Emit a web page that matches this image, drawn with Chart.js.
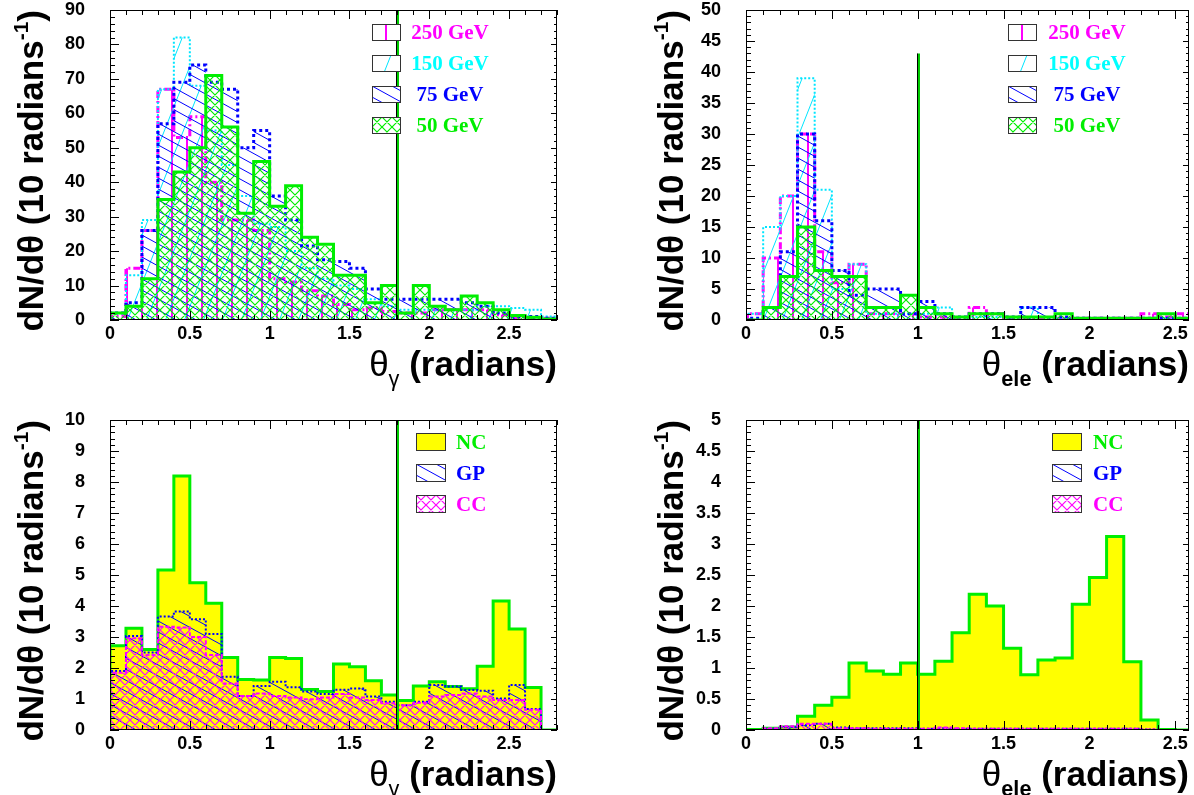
<!DOCTYPE html>
<html>
<head>
<meta charset="utf-8">
<script src="https://cdn.jsdelivr.net/npm/chart.js@4.4.1/dist/chart.umd.min.js"></script>
<style>
  html, body { margin: 0; padding: 0; background: #fff; }
  #page { position: relative; width: 1194px; height: 795px; overflow: hidden; }
  canvas.panel, canvas.swatch { position: absolute; }
  .ytitle { position: absolute; font: bold 35px 'Liberation Sans', Arial, sans-serif; line-height: 35px;
            white-space: nowrap; transform-origin: 0 0; transform: rotate(-90deg) translateX(-100%); }
  .xtitle { position: absolute; font: bold 35px 'Liberation Sans', Arial, sans-serif; line-height: 35px;
            white-space: nowrap; }
  sup { font-size: 0.6em; vertical-align: 0.7em; line-height: 0; }
  sub { font-size: 0.62em; vertical-align: -0.45em; line-height: 0; }
  .thin { font-weight: normal; }
  .legtxt { position: absolute; font: bold 21px 'Liberation Serif', 'Times New Roman', serif; line-height: 21px;
            white-space: nowrap; }
</style>
</head>
<body>
<div id="page"></div>
<script>
// all histograms use 0.1 rad bins starting at 0
const binWidth = 0.1;

// photon angle, signal samples (top left)
const gamma250 = [1, 15, 26, 67, 53, 59, 40, 29, 29, 26, 12, 11, 8.5, 7, 4.5, 3, 3.5, 2.5, 2, 2, 3, 3, 3, 3, 1.5, 0.5, 0.5, 0.5];
const gamma150 = [2, 13, 29, 67, 82, 68, 55, 45, 36, 28, 27, 20, 15, 12, 10, 9, 6, 4, 3, 3, 3, 3, 3, 4, 4, 3.5, 3, 1];
const gamma75 = [2, 5, 26, 57, 69, 74, 69, 67, 50, 55, 36, 29, 21.5, 17.5, 17, 15, 9, 6, 6, 6, 6, 6, 5, 4, 2, 1, 1, 0.5];
const gamma50 = [2, 4, 12, 35, 43, 50, 71, 56, 31, 46, 33, 39, 24, 22, 13, 13, 5, 10, 2, 10, 4, 3, 7, 5, 3, 1.3, 0.8, 0.3];

// electron angle, signal samples (top right)
const ele250 = [1, 10, 20, 30, 11, 6, 9, 1, 1, 1, 0.5, 0.5, 0.3, 2, 1, 0.3, 0.3, 0.3, 0.3, 0.3, 0.3, 0.3, 0.3, 1, 0.5, 1];
const ele150 = [1, 15, 20, 39, 21, 5, 9, 1, 1, 1, 1, 2, 0.5, 0.5, 0.5, 0.5, 2, 0.5, 0.3, 0.3, 0.3, 0.3, 0.3, 0.3, 0.3, 0.3];
const ele75 = [0.3, 2, 11, 30, 16, 8, 4, 5, 5, 1, 3, 1, 0.5, 1, 1, 0.5, 2, 2, 0.5, 0.3, 0.3, 0.3, 0.3, 0.3, 0.3, 0.3];
const ele50 = [0, 2, 7, 15, 8, 7, 7, 2, 2, 4, 2, 1, 0.5, 1, 1, 0.5, 0.5, 0.5, 1, 0.3, 0.3, 0.3, 0.3, 0.3, 1, 0.3];

// photon angle, backgrounds (bottom left)
const gammaNC = [2.72, 3.28, 2.6, 5.16, 8.19, 4.75, 4.09, 2.34, 1.63, 1.61, 2.34, 2.31, 1.31, 1.24, 2.13, 2.04, 1.59, 1.13, 0.95, 1.42, 1.56, 1.4, 1.33, 2.06, 4.16, 3.26, 1.37, 0];
const gammaGP = [1.9, 3.03, 2.5, 3.66, 3.82, 3.57, 3.1, 1.72, 1.1, 1.42, 1.56, 1.38, 1.24, 1.16, 1.3, 1.34, 1.08, 0.91, 0.8, 0.91, 1.45, 1.4, 1.29, 1.27, 1.02, 1.45, 0.68, 0];
const gammaCC = [1.85, 2.96, 2.42, 3.33, 3.31, 3.0, 2.42, 1.5, 1.1, 1.18, 1.1, 1.05, 0.99, 1.05, 1.16, 1.05, 0.97, 0.86, 0.8, 0.88, 1.08, 1.13, 1.18, 1.08, 0.97, 0.97, 0.65, 0];

// electron angle, backgrounds (bottom right)
const eleNC = [0.01, 0.03, 0.05, 0.22, 0.4, 0.53, 1.08, 0.95, 0.9, 1.08, 0.9, 1.11, 1.57, 2.19, 2.0, 1.32, 0.89, 1.13, 1.16, 2.03, 2.46, 3.12, 1.1, 0.16, 0.01, 0];
const eleGP = [0, 0.02, 0.05, 0.08, 0.1, 0.04, 0.03, 0.03, 0.03, 0.03, 0.02, 0.03, 0.02, 0.02, 0.02, 0.02, 0.02, 0.02, 0.02, 0.02, 0.02, 0.02, 0.02, 0.01, 0, 0];
const eleCC = [0, 0.03, 0.06, 0.1, 0.1, 0.03, 0.03, 0.02, 0.02, 0.02, 0.02, 0.04, 0.03, 0.02, 0.02, 0.02, 0.02, 0.02, 0.02, 0.02, 0.02, 0.02, 0.02, 0.01, 0, 0];

// tick labels
const xTicks = [0, 0.5, 1, 1.5, 2, 2.5];
const yTicksGamma = [0, 10, 20, 30, 40, 50, 60, 70, 80, 90];
const yTicksEle = [0, 5, 10, 15, 20, 25, 30, 35, 40, 45, 50];
const yTicksGammaBkg = [0, 1, 2, 3, 4, 5, 6, 7, 8, 9, 10];
const yTicksEleBkg = [0, 0.5, 1, 1.5, 2, 2.5, 3, 3.5, 4, 4.5, 5];

// cut positions
const cutGamma = 1.8;
const cutEle = 1.0;
const cutEleHeight = 43;

const page = document.getElementById('page');
const tickFont = { family: "'Liberation Sans', Arial, sans-serif", size: 18, weight: 'bold' };

// small tile with hatch lines, ROOT fill style look-alike
function makeTile(kind, color, lw) {
  var c = document.createElement('canvas');
  var w = 10, h = 10;
  if (kind === 'vert') { w = 15; h = 4; }
  if (kind === 'slash') { w = 19; h = 48; }
  if (kind === 'back') { w = 20; h = 11; }
  c.width = w; c.height = h;
  var g = c.getContext('2d');
  g.strokeStyle = color;
  g.lineWidth = lw;
  g.beginPath();
  for (var k = -1; k <= 1; k++) {
    if (kind === 'vert' && k === 0) { g.moveTo(7, 0); g.lineTo(7, h); }
    if (kind === 'slash') { g.moveTo(k * w, h); g.lineTo(k * w + w, 0); }
    if (kind === 'back') { g.moveTo(0, k * h); g.lineTo(w, k * h + h); }
    if (kind === 'cross') {
      g.moveTo(k * w, 0); g.lineTo(k * w + w, h);
      g.moveTo(k * w, h); g.lineTo(k * w + w, 0);
    }
  }
  g.stroke();
  return c;
}

const tiles = {
  m250: makeTile('vert', '#ff00ff', 2),
  c150: makeTile('slash', '#00e5ff', 1),
  b75: makeTile('back', '#0000ff', 1),
  g50: makeTile('cross', '#00ee00', 1.2),
  gp: makeTile('back', '#0000ff', 1),
  cc: makeTile('cross', '#ff00ff', 1.2)
};
const scratch = document.createElement('canvas').getContext('2d');
function pat(name) { return scratch.createPattern(tiles[name], 'repeat'); }

function histPoints(values) {
  var pts = [{ x: 0, y: 0 }];
  values.forEach(function (v, i) { pts.push({ x: i * binWidth, y: v }); });
  pts.push({ x: values.length * binWidth, y: 0 });
  return pts;
}

function histSet(label, values, color, width, dash, fill, order) {
  return {
    label: label,
    data: histPoints(values),
    stepped: true,
    borderColor: color,
    borderWidth: width,
    borderDash: dash,
    borderCapStyle: 'butt',
    backgroundColor: fill,
    fill: 'origin',
    pointRadius: 0,
    order: order
  };
}

// frame, inward ticks on all sides and the cut line
const rootFrame = {
  id: 'rootFrame',
  afterDatasetsDraw(chart, args, o) {
    const ctx = chart.ctx, a = chart.chartArea;
    const xs = chart.scales.x, ys = chart.scales.y;
    ctx.save();
    const cx = Math.round(xs.getPixelForValue(o.cut));
    const top = ys.getPixelForValue(o.cutTop);
    ctx.strokeStyle = '#000';
    ctx.lineWidth = 1;
    ctx.beginPath(); ctx.moveTo(cx - 0.5, a.bottom); ctx.lineTo(cx - 0.5, top); ctx.stroke();
    ctx.strokeStyle = '#00cc00';
    ctx.lineWidth = 2;
    ctx.beginPath(); ctx.moveTo(cx + 1, a.bottom); ctx.lineTo(cx + 1, top); ctx.stroke();

    ctx.strokeStyle = '#000';
    ctx.lineWidth = 1;
    ctx.strokeRect(a.left + 0.5, a.top + 0.5, a.width - 1, a.height - 1);
    ctx.beginPath();
    for (let i = 0; i * o.xMinor <= xs.max + 1e-9; i++) {
      const px = Math.round(xs.getPixelForValue(i * o.xMinor)) + 0.5;
      const len = i % 5 === 0 ? 9 : 5;
      ctx.moveTo(px, a.bottom); ctx.lineTo(px, a.bottom - len);
      ctx.moveTo(px, a.top); ctx.lineTo(px, a.top + len);
    }
    for (let i = 0; i * o.yMinor <= ys.max + 1e-9; i++) {
      const py = Math.round(ys.getPixelForValue(i * o.yMinor)) + 0.5;
      const major = i % 5 === 0;
      ctx.moveTo(a.left, py); ctx.lineTo(a.left + (major ? 9 : 5), py);
      ctx.moveTo(a.right, py); ctx.lineTo(a.right - (major ? 6 : 3), py);
    }
    ctx.stroke();
    ctx.restore();
  }
};

function makePanel(p) {
  const yW = 110, pt = 40, pr = 20, xH = 40;
  const canvas = document.createElement('canvas');
  canvas.className = 'panel';
  canvas.width = (p.r - p.l) + yW + pr;
  canvas.height = (p.b - p.t) + pt + xH;
  canvas.style.left = (p.l - yW) + 'px';
  canvas.style.top = (p.t - pt) + 'px';
  page.appendChild(canvas);

  new Chart(canvas, {
    type: 'line',
    data: { datasets: p.datasets },
    options: {
      responsive: false,
      animation: false,
      devicePixelRatio: 1,
      layout: { padding: { top: pt, right: pr, left: 0, bottom: 0 } },
      plugins: {
        legend: { display: false },
        tooltip: { enabled: false },
        rootFrame: { cut: p.cut, cutTop: p.cutTop, xMinor: 0.1, yMinor: p.yMinor }
      },
      scales: {
        x: {
          type: 'linear', min: 0, max: p.xMax,
          grid: { display: false, drawTicks: false },
          border: { display: false },
          afterFit: function (s) { s.height = xH; },
          afterBuildTicks: function (s) { s.ticks = xTicks.map(function (v) { return { value: v }; }); },
          ticks: { padding: 3, color: '#000', font: tickFont, maxRotation: 0, autoSkip: false,
                   callback: function (v) { return String(v); } }
        },
        y: {
          type: 'linear', min: 0, max: p.yMax,
          grid: { display: false, drawTicks: false },
          border: { display: false },
          afterFit: function (s) { s.width = yW; },
          afterBuildTicks: function (s) { s.ticks = p.yTicks.map(function (v) { return { value: v }; }); },
          ticks: { padding: 25, color: '#000', font: tickFont, autoSkip: false,
                   callback: function (v) { return String(v); } }
        }
      }
    },
    plugins: [rootFrame]
  });
}

makePanel({
  l: 110, t: 10, r: 557, b: 320, xMax: 2.8, yMax: 90, yTicks: yTicksGamma, yMinor: 2,
  cut: cutGamma, cutTop: 90,
  datasets: [
    histSet('250 GeV', gamma250, '#ff00ff', 3, [7, 3, 2, 3], pat('m250'), 3),
    histSet('150 GeV', gamma150, '#00e5ff', 2, [2, 2], pat('c150'), 2),
    histSet('75 GeV', gamma75, '#0000ff', 3, [3, 3], pat('b75'), 1),
    histSet('50 GeV', gamma50, '#00ee00', 3, [], pat('g50'), 0)
  ]
});

makePanel({
  l: 746, t: 10, r: 1189, b: 320, xMax: 2.58, yMax: 50, yTicks: yTicksEle, yMinor: 1,
  cut: cutEle, cutTop: cutEleHeight,
  datasets: [
    histSet('250 GeV', ele250, '#ff00ff', 3, [7, 3, 2, 3], pat('m250'), 3),
    histSet('150 GeV', ele150, '#00e5ff', 2, [2, 2], pat('c150'), 2),
    histSet('75 GeV', ele75, '#0000ff', 3, [3, 3], pat('b75'), 1),
    histSet('50 GeV', ele50, '#00ee00', 3, [], pat('g50'), 0)
  ]
});

makePanel({
  l: 110, t: 420, r: 557, b: 730, xMax: 2.8, yMax: 10, yTicks: yTicksGammaBkg, yMinor: 0.2,
  cut: cutGamma, cutTop: 10,
  datasets: [
    histSet('NC', gammaNC, '#00ee00', 3, [], '#ffff00', 2),
    histSet('GP', gammaGP, '#0000ff', 2, [2, 2], pat('gp'), 1),
    histSet('CC', gammaCC, '#ff00ff', 2, [4, 2], pat('cc'), 0)
  ]
});

makePanel({
  l: 746, t: 420, r: 1189, b: 730, xMax: 2.58, yMax: 5, yTicks: yTicksEleBkg, yMinor: 0.1,
  cut: cutEle, cutTop: 5,
  datasets: [
    histSet('NC', eleNC, '#00ee00', 3, [], '#ffff00', 2),
    histSet('GP', eleGP, '#0000ff', 2, [2, 2], pat('gp'), 1),
    histSet('CC', eleCC, '#ff00ff', 2, [4, 2], pat('cc'), 0)
  ]
});

// axis titles
function addHtml(cls, html, style) {
  const d = document.createElement('div');
  d.className = cls;
  d.innerHTML = html;
  Object.assign(d.style, style);
  page.appendChild(d);
}
const yTitle = 'dN/d&theta; (10 radians<sup>-1</sup>)';
addHtml('ytitle', yTitle, { left: '13px', top: '10px' });
addHtml('ytitle', yTitle, { left: '653px', top: '10px' });
addHtml('ytitle', yTitle, { left: '13px', top: '420px' });
addHtml('ytitle', yTitle, { left: '653px', top: '420px' });
const xTitleGamma = '<span class="thin">&theta;<sub>&gamma;</sub></span> (radians)';
const xTitleEle = '<span class="thin">&theta;</span><sub>ele</sub> (radians)';
addHtml('xtitle', xTitleGamma, { right: '637px', top: '346px' });
addHtml('xtitle', xTitleEle, { right: '5px', top: '346px' });
addHtml('xtitle', xTitleGamma, { right: '637px', top: '756px' });
addHtml('xtitle', xTitleEle, { right: '5px', top: '756px' });

// legends
function swatch(x, y, w, h, fill, shift) {
  const c = document.createElement('canvas');
  c.className = 'swatch';
  c.width = w; c.height = h;
  c.style.left = x + 'px'; c.style.top = y + 'px';
  const g = c.getContext('2d');
  g.fillStyle = '#fff';
  g.fillRect(0, 0, w, h);
  if (typeof fill === 'string') {
    g.fillStyle = fill;
  } else {
    const pt = g.createPattern(fill, 'repeat');
    if (shift) pt.setTransform(new DOMMatrix().translate(shift, 0));
    g.fillStyle = pt;
  }
  g.fillRect(0, 0, w, h);
  g.strokeStyle = '#333';
  g.strokeRect(0.5, 0.5, w - 1, h - 1);
  page.appendChild(c);
}

const sigLabels = ['250 GeV', '150 GeV', '75 GeV', '50 GeV'];
const sigColors = ['#ff00ff', '#00ffff', '#0000ff', '#00ee00'];
const sigTiles = [tiles.m250, tiles.c150, tiles.b75, tiles.g50];
const bkgLabels = ['NC', 'GP', 'CC'];
const bkgColors = ['#00ee00', '#0000ff', '#ff00ff'];
const bkgFills = ['#ffff00', tiles.gp, tiles.cc];

[[372, 410], [1008, 1047]].forEach(function (pos) {
  [24, 55, 86, 117].forEach(function (y, i) {
    swatch(pos[0], y, 29, 17, sigTiles[i], i === 0 ? 7 : 0);
    addHtml('legtxt', sigLabels[i], { left: pos[1] + 'px', top: (y - 2) + 'px', width: '80px',
      textAlign: 'center', color: sigColors[i] });
  });
});
[[416, 456], [1052, 1093]].forEach(function (pos) {
  [433, 464, 495].forEach(function (y, i) {
    swatch(pos[0], y, 30, 18, bkgFills[i], 0);
    addHtml('legtxt', bkgLabels[i], { left: pos[1] + 'px', top: (y - 1) + 'px', color: bkgColors[i] });
  });
});
</script>
</body>
</html>
